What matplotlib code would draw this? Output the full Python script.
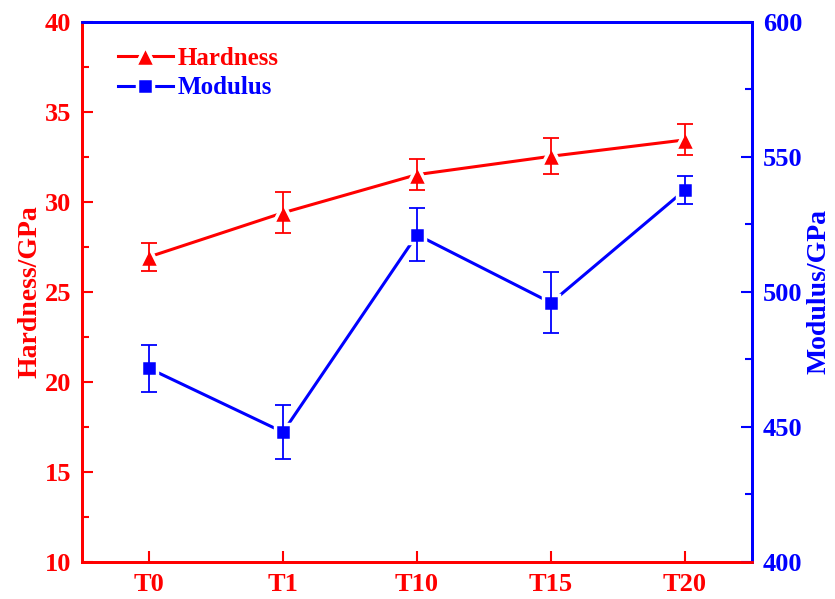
import matplotlib
matplotlib.use('Agg')
import matplotlib.pyplot as plt
from matplotlib.ticker import MultipleLocator

plt.rcParams['font.family'] = ['Liberation Serif', 'DejaVu Serif']
plt.rcParams['font.weight'] = 'bold'
plt.rcParams['axes.labelweight'] = 'bold'

samples = ['T0', 'T1', 'T10', 'T15', 'T20']
hardness = [26.95, 29.4, 31.52, 32.54, 33.45]
hardnessErr = [0.77, 1.13, 0.85, 0.99, 0.86]
modulus = [471.7, 448.1, 521.2, 496.0, 537.8]
modulusErr = [8.6, 10.1, 9.8, 11.3, 5.3]

red = '#FF0000'
blue = '#0000FF'

fig = plt.figure(figsize=(8.35, 5.99), dpi=100)
ax = fig.add_axes([0.0982, 0.0618, 0.8024, 0.9015])
ax2 = ax.twinx()

x = list(range(len(samples)))

lineH, = ax.plot(x, hardness, color=red, lw=2.2, marker='^', ms=15,
                 mfc=red, mec='white', mew=2.5, zorder=3, label='Hardness')
ax.errorbar(x, hardness, yerr=hardnessErr, fmt='none', ecolor=red,
            elinewidth=1.3, capsize=6, capthick=1.3, zorder=4)

lineM, = ax2.plot(x, modulus, color=blue, lw=2.2, marker='s', ms=11,
                  mfc=blue, mec='white', mew=2.5, zorder=3, label='Modulus')
ax2.errorbar(x, modulus, yerr=modulusErr, fmt='none', ecolor=blue,
             elinewidth=1.3, capsize=6, capthick=1.3, zorder=4)

ax.set_xlim(-0.5, 4.5)
ax.set_ylim(10, 40)
ax2.set_ylim(400, 600)
ax.set_xticks(x)
ax.set_xticklabels(samples)

ax.yaxis.set_major_locator(MultipleLocator(5))
ax.yaxis.set_minor_locator(MultipleLocator(2.5))
ax2.yaxis.set_major_locator(MultipleLocator(50))
ax2.yaxis.set_minor_locator(MultipleLocator(25))

ax.tick_params(axis='x', direction='in', length=8, width=1.5, colors=red,
               labelsize=19, pad=8)
ax.tick_params(axis='y', which='major', direction='in', length=8, width=1.5,
               colors=red, labelsize=19, pad=8)
ax.tick_params(axis='y', which='minor', direction='in', length=5, width=1.5,
               colors=red)
ax2.tick_params(axis='y', which='major', direction='in', length=8, width=1.5,
                colors=blue, labelsize=19, pad=8)
ax2.tick_params(axis='y', which='minor', direction='in', length=5, width=1.5,
                colors=blue)

for a in (ax, ax2):
    a.spines['left'].set_color(red)
    a.spines['bottom'].set_color(red)
    a.spines['right'].set_color(blue)
    a.spines['top'].set_color(blue)
    for s in a.spines.values():
        s.set_linewidth(2)

ax.set_ylabel('Hardness/GPa', color=red, fontsize=20, fontweight='bold',
              labelpad=1)
ax2.set_ylabel('Modulus/GPa', color=blue, fontsize=20, fontweight='bold',
               labelpad=3)

leg = ax.legend(handles=[lineH, lineM], loc='upper left', frameon=False,
                fontsize=18, bbox_to_anchor=(0.02, 0.995), handlelength=2.2,
                handletextpad=0.2, labelspacing=0.25)
for t, c in zip(leg.get_texts(), [red, blue]):
    t.set_color(c)
    t.set_fontweight('bold')

fig.savefig('out.png', dpi=100)
